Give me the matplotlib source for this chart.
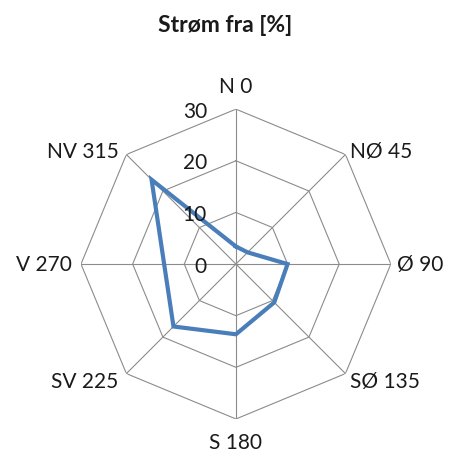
import numpy as np
import matplotlib
matplotlib.use("Agg")
import matplotlib.pyplot as plt

# Current direction distribution (percent) per compass sector
directions = ["N 0", "NØ 45", "Ø 90", "SØ 135", "S 180", "SV 225", "V 270", "NV 315"]
angles_deg = [0, 45, 90, 135, 180, 225, 270, 315]
values = [3.4, 3.2, 10.0, 10.5, 13.6, 17.1, 13.9, 23.1]
rings = [10, 20, 30]
ring_labels = ["0", "10", "20", "30"]

plt.rcParams["font.family"] = ["Lato", "DejaVu Sans"]

fig = plt.figure(figsize=(4.51, 4.57), dpi=100)
ax = fig.add_axes([0.1796, 0.0832, 0.687, 0.678], projection="polar")
ax.set_theta_zero_location("N")
ax.set_theta_direction(-1)
ax.set_ylim(0, 30)
ax.grid(False)
ax.spines["polar"].set_visible(False)
ax.set_xticks([])
ax.set_yticks([])
ax.patch.set_visible(False)

theta = np.deg2rad(angles_deg)
theta_closed = np.append(theta, theta[0])

grid_kw = dict(color="#8c8c8c", lw=0.8, zorder=1)
for r in rings:
    ax.plot(theta_closed, [r] * len(theta_closed), **grid_kw)
for t in theta:
    ax.plot([t, t], [0, 30], **grid_kw)

ax.plot(theta_closed, np.append(values, values[0]), color="#4a7ebb",
        lw=3.0, solid_joinstyle="miter", zorder=3)

# direction labels: (ha, dx px, baseline dy px relative to vertex, up = +)
label_pos = {
    0: ("center", 0, 16),
    45: ("left", 5, -3),
    90: ("left", 6, -7),
    135: ("left", 5, -14),
    180: ("center", 0, -30),
    225: ("right", -8, -14),
    270: ("right", -9, -7),
    315: ("right", -8, -3),
}
for name, a in zip(directions, angles_deg):
    ha, dx, dy = label_pos[a]
    ax.annotate(name, xy=(np.deg2rad(a), 30), xytext=(dx, dy),
                textcoords="offset pixels", ha=ha, va="baseline", fontsize=15,
                color="#1a1a1a", annotation_clip=False)

# radial scale labels
for lab, r in zip(ring_labels, [0] + rings):
    ax.annotate(lab, xy=(0, r), xytext=(-29, -8.5), textcoords="offset pixels",
                ha="right", va="baseline", fontsize=15, color="#1a1a1a",
                annotation_clip=False)

fig.text(0.5, 1 - 32.3 / 457, "Strøm fra [%]", ha="center", va="baseline",
         fontsize=16.5, fontweight="bold", color="#1a1a1a")

fig.savefig("out.png", dpi=100, facecolor="white")
